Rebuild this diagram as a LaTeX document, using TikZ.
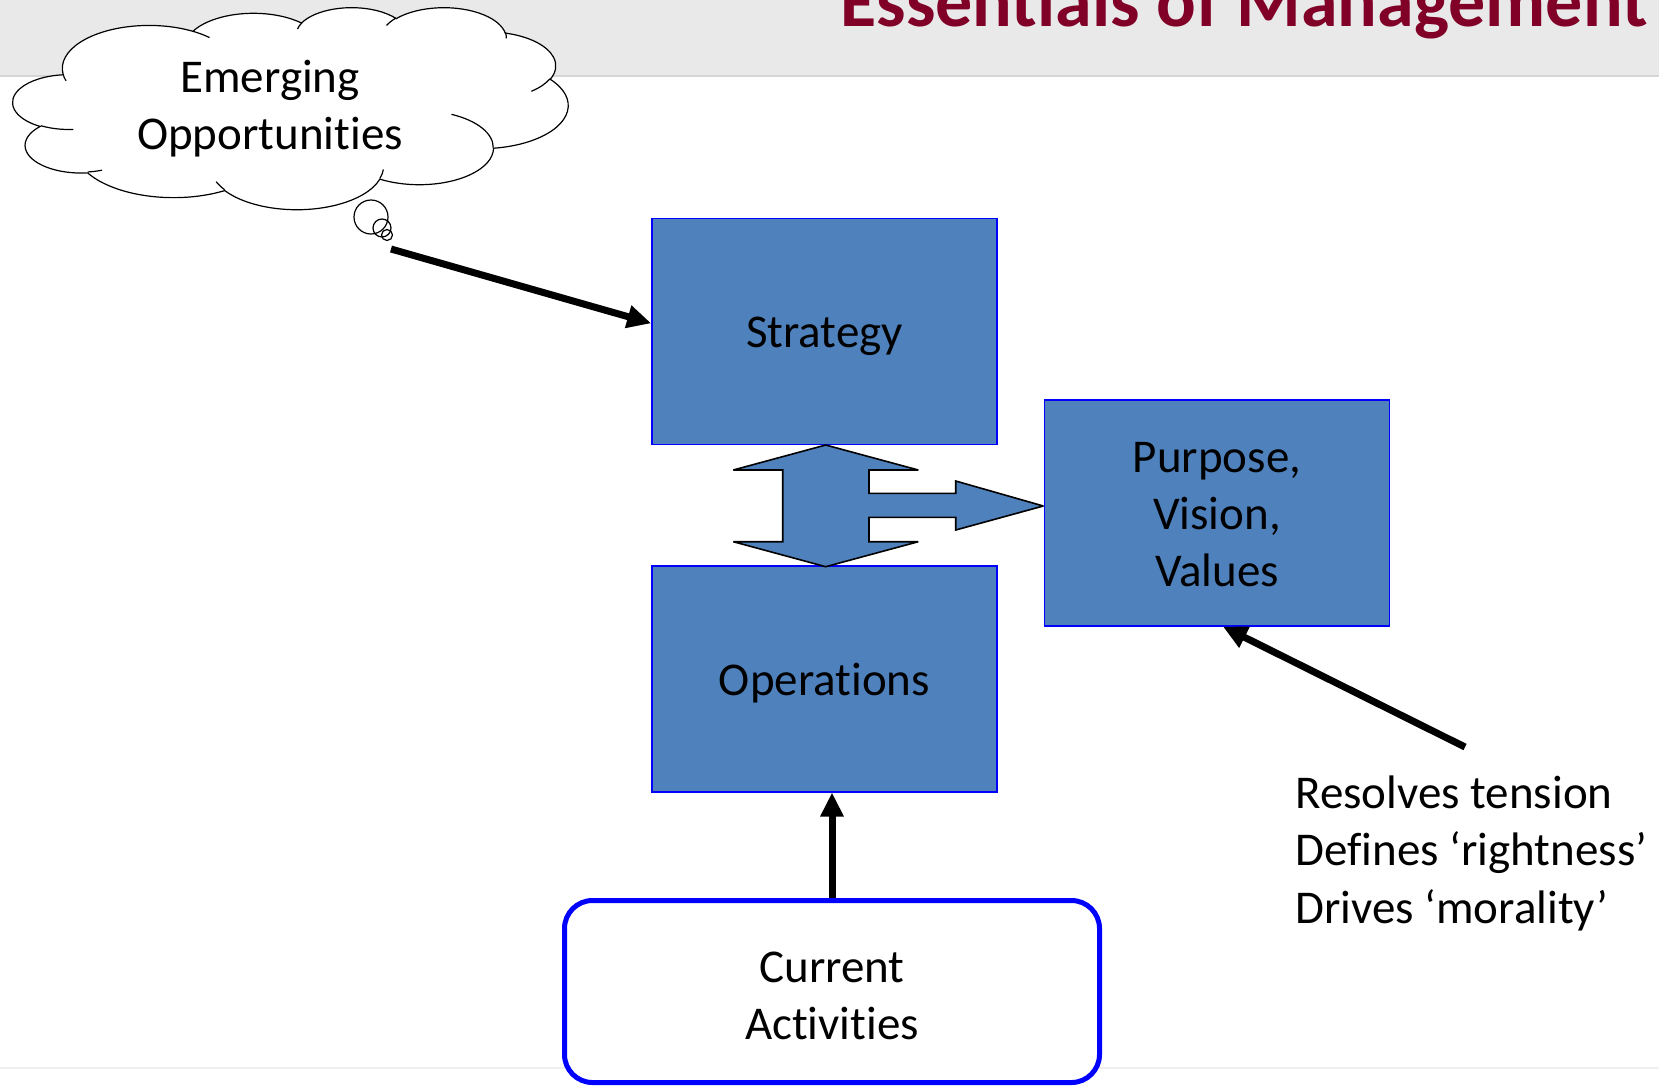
\documentclass[tikz,border=0pt]{standalone}
\usepackage{fontspec}
\setmainfont{Carlito}[Ligatures={TeX,NoCommon}]
\usetikzlibrary{arrows.meta}
\definecolor{boxblue}{HTML}{4F81BD}
\definecolor{headgray}{HTML}{E9E9E9}
\definecolor{headline}{HTML}{D6D6D6}
\definecolor{titlered}{HTML}{800027}
\definecolor{footline}{HTML}{F0F0F0}
\newcommand\dmarc[4]{%
  \pgfextra{%
    \pgfmathsetmacro\dmta{atan2((#1)*sin(#3),(#2)*cos(#3))}\global\let\dmta\dmta
    \pgfmathsetmacro\dmtc{atan2((#1)*sin((#3)+(#4)),(#2)*cos((#3)+(#4)))}\global\let\dmtc\dmtc
    \pgfmathsetmacro\dmtb{\dmta+Mod(\dmtc-\dmta,360)}\global\let\dmtb\dmtb
  }%
  arc[start angle=\dmta, end angle=\dmtb, x radius=#1, y radius=#2]%
}
\newcommand\lowtxt[2]{\raisebox{-#1}[\height][\depth]{\begin{tabular}{@{}c@{}}#2\end{tabular}}}
\tikzset{
  txt/.style={font=\fontsize{23.5}{28.6}\selectfont},
  bx/.style={txt, draw=blue, fill=boxblue, line width=0.8pt, minimum width=172.5pt, minimum height=113pt, inner sep=0pt},
  curbox/.style={txt, draw=blue, fill=white, line width=2.5pt, rounded corners=14pt, minimum width=267.5pt, minimum height=91pt, inner sep=0pt},
  arr/.style={line width=3.5pt, -{Triangle[length=12pt,width=11pt]}},
  cloudline/.style={draw=black, line width=0.6pt},
  harrow/.style={draw=black, fill=boxblue, line width=0.8pt, line join=miter, miter limit=3}
}
\begin{document}
\begin{tikzpicture}[x=0.5pt,y=-0.5pt]
\useasboundingbox (0,0) rectangle (1659,1087);
\fill[white] (0,0) rectangle (1659,1087);
% header
\fill[headgray] (0,0) rectangle (1659,76);
\draw[headline, line width=0.8pt] (0,76) -- (1659,76);
\node[anchor=base east, inner sep=0pt, text=titlered, font=\bfseries\fontsize{37}{44}\selectfont] (title) at (1648,26) {Essentials of Management};
% footer line
\draw[footline, line width=1pt] (0,1068) -- (1659,1068);
% cloud
\begin{scope}[xshift=6.5pt, yshift=-3.5pt, x=0.64236pt, y=-0.2338pt]
\filldraw[cloudline, fill=white] (39.00,143.70)
  \dmarc{67.53}{91.90}{-190.4875}{123.7805}
  \dmarc{53.33}{72.67}{-144.10238}{89.94523}
  \dmarc{43.65}{59.45}{-145.80792}{99.72302}
  \dmarc{48.57}{65.95}{-130.98607}{117.24173}
  \dmarc{53.33}{72.73}{-78.70888}{109.02692}
  \dmarc{67.75}{92.20}{-46.26725}{130.269}
  \dmarc{57.85}{78.67}{0.62502}{114.03333}
  \dmarc{67.52}{92.15}{22.4516}{115.17255}
  \dmarc{77.20}{105.43}{66.24263}{75.71102}
  \dmarc{43.60}{59.18}{-274.94208}{146.73557}
  \dmarc{43.45}{59.45}{-246.8285}{152.51885}
  -- cycle;
\draw[cloudline]
  (46.93,261.77) \dmarc{43.45}{59.45}{86.742}{26.4295}
  (69.28,348.99) \dmarc{43.60}{59.18}{73.6105}{11.4475}
  (164.78,390.90) \dmarc{67.52}{92.15}{137.6242}{14.0811}
  (288.27,347.51) \dmarc{67.52}{92.15}{6.4533}{15.9984}
  (341.29,229.54) \dmarc{57.85}{78.67}{-70.2924}{70.9174}
  (417.98,153.54) \dmarc{53.33}{72.73}{30.3180}{27.7515}
  (383.24,54.26) \dmarc{48.57}{65.95}{-13.7443}{14.8589}
  (290.78,39.52) \dmarc{48.57}{65.95}{-149.1815}{18.1954}
  (221.41,47.20) \dmarc{43.65}{59.45}{-163.4943}{17.6864}
  (140.00,51.92) \dmarc{67.53}{91.90}{-66.7070}{12.3194}
  (41.27,157.89) \dmarc{67.53}{91.90}{157.6544}{11.8582};
\end{scope}
\node[txt, inner sep=0pt] (cloudtxt) at (270,106) {\lowtxt{1.6pt}{Emerging\\Opportunities}};
\draw[cloudline] (371,217) circle[radius=17];
\draw[cloudline] (382,228) circle[radius=9];
\draw[cloudline] (387,235) circle[radius=5.5];
\coordinate (bub) at (391,249);
% boxes
\node[bx] (strat) at (824.5,331.3) {\lowtxt{2.6pt}{Strategy}};
\node[bx] (ops) at (824.5,678.7) {\lowtxt{2.6pt}{Operations}};
\node[bx] (purp) at (1217,512.8) {\lowtxt{2.6pt}{Purpose,\\Vision,\\Values}};
\node[curbox] (cur) at (832,991.5) {\lowtxt{4pt}{Current\\Activities}};
% combined arrow shape
\draw[harrow] (825.7,445) -- (733.3,470) -- (782.7,470) -- (782.7,541.7) -- (733.3,541.7)
  -- (825.7,566.7) -- (918.3,541.7) -- (869,541.7) -- (869,517.3) -- (955.7,517.3)
  -- (955.7,530) -- (1043.3,506) -- (955.7,481) -- (955.7,493.3) -- (869,493.3)
  -- (869,470) -- (918.3,470) -- cycle;
% note text
\node[txt, anchor=base west, align=left, inner sep=0pt] (note) at (1295,923) {Resolves tension\\Defines ‘rightness’\\Drives ‘morality’};
\coordinate (notept) at (1465,747);
% connectors
\draw[arr] (bub) -- ([yshift=4pt]strat.west);
\draw[arr] (notept) -- ([xshift=3pt]purp.south);
\draw[arr] (cur.north) -- (cur.north |- ops.south);
\end{tikzpicture}
\end{document}
